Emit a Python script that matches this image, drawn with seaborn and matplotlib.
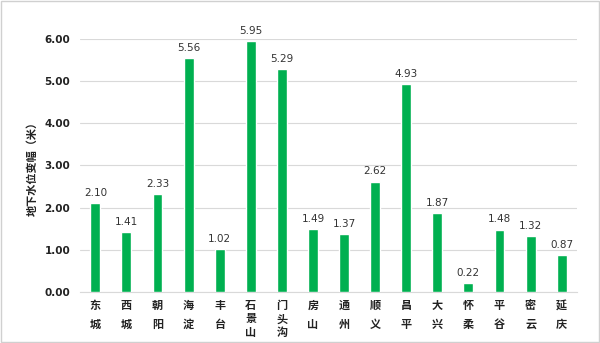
import matplotlib
matplotlib.use("Agg")
import matplotlib.pyplot as plt
import seaborn as sns
import pandas as pd

districts = ["东城", "西城", "朝阳", "海淀", "丰台", "石景山", "门头沟", "房山",
             "通州", "顺义", "昌平", "大兴", "怀柔", "平谷", "密云", "延庆"]
values = [2.10, 1.41, 2.33, 5.56, 1.02, 5.95, 5.29, 1.49,
          1.37, 2.62, 4.93, 1.87, 0.22, 1.48, 1.32, 0.87]
yticks = [0, 1, 2, 3, 4, 5, 6]

sns.set_theme(style="white")
plt.rcParams['font.family'] = ['Noto Sans CJK SC', 'DejaVu Sans']

df = pd.DataFrame({"district": districts, "value": values})

fig = plt.figure(figsize=(6, 3.43), dpi=100)
ax = fig.add_axes([0.133, 0.149, 0.829, 0.737])
sns.barplot(data=df, x="district", y="value", color="#00B050", width=0.32,
            saturation=1, ax=ax, zorder=3)

ax.set_ylim(0, 6)
ax.set_yticks(yticks)
ax.set_yticklabels([f"{t:.2f}" for t in yticks], fontsize=7.5, fontweight="bold",
                   color="#222222", family=["DejaVu Sans"])
ax.yaxis.grid(True, color="#d9d9d9", linewidth=0.8, zorder=0)
ax.set_axisbelow(True)
for s in ["top", "right", "left"]:
    ax.spines[s].set_visible(False)
ax.spines["bottom"].set_color("#d9d9d9")
ax.spines["bottom"].set_linewidth(0.8)
ax.tick_params(axis="y", length=0, pad=7)
ax.tick_params(axis="x", length=0, pad=5)

ax.set_xticks(range(len(districts)))
labels = ax.set_xticklabels(["\n".join(list(d)) for d in districts], fontsize=8,
                            fontweight="bold", color="#222222", va="top")
for lab, d in zip(labels, districts):
    lab.set_linespacing(1.6 if len(d) == 2 else 1.05)
ax.set_xlabel("")
ax.set_ylabel("地下水位变幅（米）", fontsize=8, fontweight="bold",
              color="#222222", labelpad=4)

for i, v in enumerate(values):
    ax.text(i, v + 0.12, f"{v:.2f}", ha="center", va="bottom", fontsize=7.5,
            color="#333333", clip_on=False, family=["DejaVu Sans"])

fig.patches.append(plt.Rectangle((0.002, 0.003), 0.996, 0.994, transform=fig.transFigure,
                                 fill=False, edgecolor="#d0d0d0", linewidth=1))

fig.savefig("out.png", dpi=100)
